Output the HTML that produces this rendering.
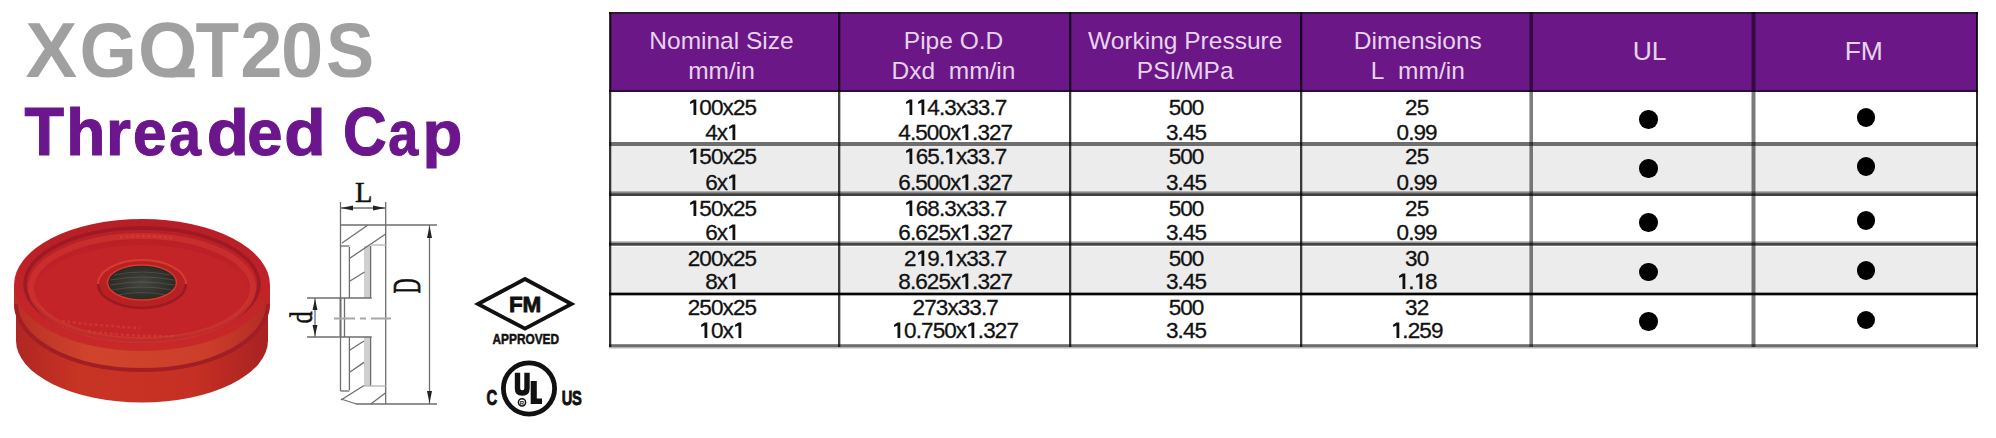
<!DOCTYPE html>
<html><head><meta charset="utf-8">
<style>
html,body{margin:0;padding:0;background:#fff;}
body{width:1996px;height:438px;position:relative;overflow:hidden;font-family:"Liberation Sans",sans-serif;}
.a{position:absolute;}
.hd{color:#e6d4ec;font-size:24.5px;text-align:center;line-height:30px;width:300px;white-space:nowrap;}
.c{color:#111;font-size:22.5px;letter-spacing:-0.9px;text-align:center;line-height:22.5px;width:300px;white-space:nowrap;-webkit-text-stroke:0.3px #111;}
.one{vertical-align:baseline;margin-right:-0.9px;fill:#111;}
.dot{width:18.5px;height:18.5px;border-radius:50%;background:#000;}
</style></head>
<body>
<svg class="a" style="left:0;top:0" width="600" height="180" viewBox="0 0 600 180">
<defs><clipPath id="qc"><rect x="0" y="0" width="600" height="77.6"/></clipPath></defs>
<g font-family="Liberation Sans" font-weight="bold" font-size="76" fill="#a0a0a0" clip-path="url(#qc)"><text transform="translate(25.38 77) scale(1.020 1.035)" x="0" y="0">X</text><text transform="translate(79.49 77) scale(0.970 1.035)" x="0" y="0">G</text><text transform="translate(138.00 77) scale(1.000 1.035)" x="0" y="0">Q</text><text transform="translate(195.56 77) scale(0.940 1.035)" x="0" y="0">T</text><text transform="translate(240.30 77) scale(1.000 1.020)" x="0" y="0">2</text><text transform="translate(281.00 77) scale(1.000 1.035)" x="0" y="0">0</text><text transform="translate(326.10 77) scale(0.950 1.035)" x="0" y="0">S</text><rect x="170" y="68.5" width="24.7" height="9"/></g>
<g font-family="Liberation Sans" font-weight="bold" font-size="64" fill="#6b168c" stroke="#6b168c" stroke-width="1.1"><text transform="translate(24.50 155) scale(1.010 1.065)" x="0" y="0">T</text><text transform="translate(66.30 155) scale(1.000 1.040)" x="0" y="0">h</text><text x="106.00" y="155">r</text><text transform="translate(132.92 155) scale(0.940 1.000)" x="0" y="0">e</text><text transform="translate(169.22 155) scale(0.890 0.970)" x="0" y="0">a</text><text transform="translate(206.74 155) scale(1.080 1.020)" x="0" y="0">d</text><text transform="translate(247.32 155) scale(0.990 1.000)" x="0" y="0">e</text><text transform="translate(284.28 155) scale(1.060 1.020)" x="0" y="0">d</text><text transform="translate(342.91 155) scale(0.945 1.060)" x="0" y="0">C</text><text transform="translate(388.32 155) scale(0.840 0.970)" x="0" y="0">a</text><text transform="translate(422.62 155) scale(1.020 0.970)" x="0" y="0">p</text></g>
</svg>

<div class="a" style="left:610px;top:12px;width:1367px;height:80px;background:#6b1787"></div>
<div class="a" style="left:610px;top:146px;width:1367px;height:46px;background:#ececec"></div>
<div class="a" style="left:610px;top:247px;width:1367px;height:46px;background:#ececec"></div>
<div class="a" style="left:609px;top:12px;width:1369px;height:2px;background:#2d1a35"></div>
<div class="a" style="left:609px;top:90px;width:1369px;height:2px;background:#2c0f38"></div>
<div class="a" style="left:609px;top:142px;width:1369px;height:4px;background:#6e6e6e"></div>
<div class="a" style="left:609px;top:191px;width:1369px;height:1px;background:#b0b0b0"></div>
<div class="a" style="left:609px;top:192px;width:1369px;height:1px;background:#8a8a8a"></div>
<div class="a" style="left:609px;top:193px;width:1369px;height:1px;background:#5a5a5a"></div>
<div class="a" style="left:609px;top:194px;width:1369px;height:2px;background:#404040"></div>
<div class="a" style="left:609px;top:241px;width:1369px;height:1px;background:#c4c4c4"></div>
<div class="a" style="left:609px;top:242px;width:1369px;height:1px;background:#9a9a9a"></div>
<div class="a" style="left:609px;top:243px;width:1369px;height:2px;background:#444444"></div>
<div class="a" style="left:609px;top:245px;width:1369px;height:1px;background:#777777"></div>
<div class="a" style="left:609px;top:292px;width:1369px;height:1px;background:#9a9a9a"></div>
<div class="a" style="left:609px;top:293px;width:1369px;height:2px;background:#050505"></div>
<div class="a" style="left:609px;top:295px;width:1369px;height:1px;background:#aaaaaa"></div>
<div class="a" style="left:609px;top:344px;width:1369px;height:1px;background:#8a8a8a"></div>
<div class="a" style="left:609px;top:345px;width:1369px;height:2px;background:#6e6e6e"></div>
<div class="a" style="left:609px;top:347px;width:1369px;height:1px;background:#b4b4b4"></div>
<div class="a" style="left:609px;top:348px;width:1369px;height:1px;background:#dcdcdc"></div>
<div class="a" style="left:609px;top:12px;width:2px;height:335px;background:rgba(0,0,0,0.78)"></div>
<div class="a" style="left:611px;top:12px;width:1px;height:335px;background:rgba(0,0,0,0.22)"></div>
<div class="a" style="left:838px;top:12px;width:2px;height:335px;background:rgba(0,0,0,0.74)"></div>
<div class="a" style="left:840px;top:12px;width:1px;height:335px;background:rgba(0,0,0,0.25)"></div>
<div class="a" style="left:1069px;top:12px;width:2px;height:335px;background:rgba(0,0,0,0.76)"></div>
<div class="a" style="left:1071px;top:12px;width:1px;height:335px;background:rgba(0,0,0,0.22)"></div>
<div class="a" style="left:1300px;top:12px;width:2px;height:335px;background:rgba(0,0,0,0.76)"></div>
<div class="a" style="left:1302px;top:12px;width:1px;height:335px;background:rgba(0,0,0,0.22)"></div>
<div class="a" style="left:1529px;top:12px;width:1px;height:335px;background:rgba(0,0,0,0.3)"></div>
<div class="a" style="left:1530px;top:12px;width:3px;height:335px;background:rgba(0,0,0,0.5)"></div>
<div class="a" style="left:1751px;top:12px;width:1px;height:335px;background:rgba(0,0,0,0.25)"></div>
<div class="a" style="left:1752px;top:12px;width:3px;height:335px;background:rgba(0,0,0,0.52)"></div>
<div class="a" style="left:1755px;top:12px;width:1px;height:335px;background:rgba(0,0,0,0.25)"></div>
<div class="a" style="left:1976px;top:12px;width:2px;height:335px;background:rgba(0,0,0,0.84)"></div>
<div class="a hd" style="left:571.5px;top:26.2px">Nominal Size<br>mm/in</div>
<div class="a hd" style="left:803.5px;top:26.2px">Pipe O.D<br>Dxd&nbsp; mm/in</div>
<div class="a hd" style="left:1035.2px;top:26.2px">Working Pressure<br>PSI/MPa</div>
<div class="a hd" style="left:1267.8px;top:26.2px">Dimensions<br>L&nbsp; mm/in</div>
<div class="a hd" style="left:1499.6px;top:36.3px;font-size:26.5px">UL</div>
<div class="a hd" style="left:1713.8px;top:36.3px;font-size:26.5px">FM</div>
<div class="a c" style="left:571.95px;top:97.25px"><svg class="one" width="12.5" height="16" viewBox="0 -16 12.5 16"><path d="M5.5,-15.5 L8.3,-15.5 L8.3,0 L5.5,0 L5.5,-12.6 L2.1,-11.0 L2.1,-13.3 Z"/></svg>00x25</div>
<div class="a c" style="left:571.95px;top:122.25px">4x<svg class="one" width="12.5" height="16" viewBox="0 -16 12.5 16"><path d="M5.5,-15.5 L8.3,-15.5 L8.3,0 L5.5,0 L5.5,-12.6 L2.1,-11.0 L2.1,-13.3 Z"/></svg></div>
<div class="a c" style="left:805.25px;top:97.25px"><svg class="one" width="12.5" height="16" viewBox="0 -16 12.5 16"><path d="M5.5,-15.5 L8.3,-15.5 L8.3,0 L5.5,0 L5.5,-12.6 L2.1,-11.0 L2.1,-13.3 Z"/></svg><svg class="one" width="12.5" height="16" viewBox="0 -16 12.5 16"><path d="M5.5,-15.5 L8.3,-15.5 L8.3,0 L5.5,0 L5.5,-12.6 L2.1,-11.0 L2.1,-13.3 Z"/></svg>4.3x33.7</div>
<div class="a c" style="left:805.25px;top:122.25px">4.500x<svg class="one" width="12.5" height="16" viewBox="0 -16 12.5 16"><path d="M5.5,-15.5 L8.3,-15.5 L8.3,0 L5.5,0 L5.5,-12.6 L2.1,-11.0 L2.1,-13.3 Z"/></svg>.327</div>
<div class="a c" style="left:1036.05px;top:97.25px">500</div>
<div class="a c" style="left:1036.05px;top:122.25px">3.45</div>
<div class="a c" style="left:1266.65px;top:97.25px">25</div>
<div class="a c" style="left:1266.65px;top:122.25px">0.99</div>
<div class="a c" style="left:571.95px;top:146.15px"><svg class="one" width="12.5" height="16" viewBox="0 -16 12.5 16"><path d="M5.5,-15.5 L8.3,-15.5 L8.3,0 L5.5,0 L5.5,-12.6 L2.1,-11.0 L2.1,-13.3 Z"/></svg>50x25</div>
<div class="a c" style="left:571.95px;top:171.55px">6x<svg class="one" width="12.5" height="16" viewBox="0 -16 12.5 16"><path d="M5.5,-15.5 L8.3,-15.5 L8.3,0 L5.5,0 L5.5,-12.6 L2.1,-11.0 L2.1,-13.3 Z"/></svg></div>
<div class="a c" style="left:805.25px;top:146.15px"><svg class="one" width="12.5" height="16" viewBox="0 -16 12.5 16"><path d="M5.5,-15.5 L8.3,-15.5 L8.3,0 L5.5,0 L5.5,-12.6 L2.1,-11.0 L2.1,-13.3 Z"/></svg>65.<svg class="one" width="12.5" height="16" viewBox="0 -16 12.5 16"><path d="M5.5,-15.5 L8.3,-15.5 L8.3,0 L5.5,0 L5.5,-12.6 L2.1,-11.0 L2.1,-13.3 Z"/></svg>x33.7</div>
<div class="a c" style="left:805.25px;top:171.55px">6.500x<svg class="one" width="12.5" height="16" viewBox="0 -16 12.5 16"><path d="M5.5,-15.5 L8.3,-15.5 L8.3,0 L5.5,0 L5.5,-12.6 L2.1,-11.0 L2.1,-13.3 Z"/></svg>.327</div>
<div class="a c" style="left:1036.05px;top:146.15px">500</div>
<div class="a c" style="left:1036.05px;top:171.55px">3.45</div>
<div class="a c" style="left:1266.65px;top:146.15px">25</div>
<div class="a c" style="left:1266.65px;top:171.55px">0.99</div>
<div class="a c" style="left:571.95px;top:197.75px"><svg class="one" width="12.5" height="16" viewBox="0 -16 12.5 16"><path d="M5.5,-15.5 L8.3,-15.5 L8.3,0 L5.5,0 L5.5,-12.6 L2.1,-11.0 L2.1,-13.3 Z"/></svg>50x25</div>
<div class="a c" style="left:571.95px;top:221.55px">6x<svg class="one" width="12.5" height="16" viewBox="0 -16 12.5 16"><path d="M5.5,-15.5 L8.3,-15.5 L8.3,0 L5.5,0 L5.5,-12.6 L2.1,-11.0 L2.1,-13.3 Z"/></svg></div>
<div class="a c" style="left:805.25px;top:197.75px"><svg class="one" width="12.5" height="16" viewBox="0 -16 12.5 16"><path d="M5.5,-15.5 L8.3,-15.5 L8.3,0 L5.5,0 L5.5,-12.6 L2.1,-11.0 L2.1,-13.3 Z"/></svg>68.3x33.7</div>
<div class="a c" style="left:805.25px;top:221.55px">6.625x<svg class="one" width="12.5" height="16" viewBox="0 -16 12.5 16"><path d="M5.5,-15.5 L8.3,-15.5 L8.3,0 L5.5,0 L5.5,-12.6 L2.1,-11.0 L2.1,-13.3 Z"/></svg>.327</div>
<div class="a c" style="left:1036.05px;top:197.75px">500</div>
<div class="a c" style="left:1036.05px;top:221.55px">3.45</div>
<div class="a c" style="left:1266.65px;top:197.75px">25</div>
<div class="a c" style="left:1266.65px;top:221.55px">0.99</div>
<div class="a c" style="left:571.95px;top:247.75px">200x25</div>
<div class="a c" style="left:571.95px;top:270.95px">8x<svg class="one" width="12.5" height="16" viewBox="0 -16 12.5 16"><path d="M5.5,-15.5 L8.3,-15.5 L8.3,0 L5.5,0 L5.5,-12.6 L2.1,-11.0 L2.1,-13.3 Z"/></svg></div>
<div class="a c" style="left:805.25px;top:247.75px">2<svg class="one" width="12.5" height="16" viewBox="0 -16 12.5 16"><path d="M5.5,-15.5 L8.3,-15.5 L8.3,0 L5.5,0 L5.5,-12.6 L2.1,-11.0 L2.1,-13.3 Z"/></svg>9.<svg class="one" width="12.5" height="16" viewBox="0 -16 12.5 16"><path d="M5.5,-15.5 L8.3,-15.5 L8.3,0 L5.5,0 L5.5,-12.6 L2.1,-11.0 L2.1,-13.3 Z"/></svg>x33.7</div>
<div class="a c" style="left:805.25px;top:270.95px">8.625x<svg class="one" width="12.5" height="16" viewBox="0 -16 12.5 16"><path d="M5.5,-15.5 L8.3,-15.5 L8.3,0 L5.5,0 L5.5,-12.6 L2.1,-11.0 L2.1,-13.3 Z"/></svg>.327</div>
<div class="a c" style="left:1036.05px;top:247.75px">500</div>
<div class="a c" style="left:1036.05px;top:270.95px">3.45</div>
<div class="a c" style="left:1266.65px;top:247.75px">30</div>
<div class="a c" style="left:1266.65px;top:270.95px"><svg class="one" width="12.5" height="16" viewBox="0 -16 12.5 16"><path d="M5.5,-15.5 L8.3,-15.5 L8.3,0 L5.5,0 L5.5,-12.6 L2.1,-11.0 L2.1,-13.3 Z"/></svg>.<svg class="one" width="12.5" height="16" viewBox="0 -16 12.5 16"><path d="M5.5,-15.5 L8.3,-15.5 L8.3,0 L5.5,0 L5.5,-12.6 L2.1,-11.0 L2.1,-13.3 Z"/></svg>8</div>
<div class="a c" style="left:571.95px;top:296.55px">250x25</div>
<div class="a c" style="left:571.95px;top:320.35px"><svg class="one" width="12.5" height="16" viewBox="0 -16 12.5 16"><path d="M5.5,-15.5 L8.3,-15.5 L8.3,0 L5.5,0 L5.5,-12.6 L2.1,-11.0 L2.1,-13.3 Z"/></svg>0x<svg class="one" width="12.5" height="16" viewBox="0 -16 12.5 16"><path d="M5.5,-15.5 L8.3,-15.5 L8.3,0 L5.5,0 L5.5,-12.6 L2.1,-11.0 L2.1,-13.3 Z"/></svg></div>
<div class="a c" style="left:805.25px;top:296.55px">273x33.7</div>
<div class="a c" style="left:805.25px;top:320.35px"><svg class="one" width="12.5" height="16" viewBox="0 -16 12.5 16"><path d="M5.5,-15.5 L8.3,-15.5 L8.3,0 L5.5,0 L5.5,-12.6 L2.1,-11.0 L2.1,-13.3 Z"/></svg>0.750x<svg class="one" width="12.5" height="16" viewBox="0 -16 12.5 16"><path d="M5.5,-15.5 L8.3,-15.5 L8.3,0 L5.5,0 L5.5,-12.6 L2.1,-11.0 L2.1,-13.3 Z"/></svg>.327</div>
<div class="a c" style="left:1036.05px;top:296.55px">500</div>
<div class="a c" style="left:1036.05px;top:320.35px">3.45</div>
<div class="a c" style="left:1266.65px;top:296.55px">32</div>
<div class="a c" style="left:1266.65px;top:320.35px"><svg class="one" width="12.5" height="16" viewBox="0 -16 12.5 16"><path d="M5.5,-15.5 L8.3,-15.5 L8.3,0 L5.5,0 L5.5,-12.6 L2.1,-11.0 L2.1,-13.3 Z"/></svg>.259</div>
<div class="a dot" style="left:1639.25px;top:110.25px"></div>
<div class="a dot" style="left:1639.25px;top:159.45px"></div>
<div class="a dot" style="left:1639.25px;top:213.05px"></div>
<div class="a dot" style="left:1639.25px;top:262.75px"></div>
<div class="a dot" style="left:1639.25px;top:312.45px"></div>
<div class="a dot" style="left:1856.55px;top:108.15px"></div>
<div class="a dot" style="left:1856.55px;top:157.45px"></div>
<div class="a dot" style="left:1856.55px;top:211.25px"></div>
<div class="a dot" style="left:1856.55px;top:261.05px"></div>
<div class="a dot" style="left:1856.55px;top:310.75px"></div>
<svg class="a" style="left:0;top:200px" width="290" height="220" viewBox="0 200 290 220">
<defs>
<linearGradient id="side" x1="0" y1="0" x2="1" y2="0">
<stop offset="0" stop-color="#b02622"/>
<stop offset="0.25" stop-color="#c83424"/>
<stop offset="0.7" stop-color="#c63024"/>
<stop offset="1" stop-color="#a82222"/>
</linearGradient>
<linearGradient id="lip" x1="0" y1="0" x2="1" y2="0">
<stop offset="0" stop-color="#b83024"/>
<stop offset="0.3" stop-color="#d0442c"/>
<stop offset="0.75" stop-color="#cc3e2a"/>
<stop offset="1" stop-color="#b42a24"/>
</linearGradient>
<linearGradient id="topg" x1="0" y1="0" x2="0" y2="1">
<stop offset="0" stop-color="#b81e26"/>
<stop offset="0.6" stop-color="#c22428"/>
<stop offset="1" stop-color="#c82a28"/>
</linearGradient>
<radialGradient id="hole" cx="0.5" cy="0.5" r="0.5">
<stop offset="0" stop-color="#45463e"/>
<stop offset="1" stop-color="#2a2a26"/>
</radialGradient>
</defs>
<!-- lower cylinder -->
<path d="M16,300 L16,340.4 A126,62 0 0 0 268,340.4 L268,300 Z" fill="url(#side)"/>
<!-- lip -->
<path d="M14,285 L14,303 A128,66 0 0 0 270,303 L270,285 Z" fill="url(#lip)"/>
<path d="M16,304 A126,66 0 0 0 268,304" fill="none" stroke="#a01e24" stroke-width="4"/>
<!-- top face -->
<ellipse cx="142" cy="285" rx="128" ry="66" fill="url(#topg)"/>
<ellipse cx="142" cy="284" rx="117" ry="56" fill="none" stroke="#8e1822" stroke-width="3.5" opacity="0.7"/>
<ellipse cx="142" cy="288" rx="111" ry="52" fill="none" stroke="#d43a32" stroke-width="6" opacity="0.55"/>
<ellipse cx="142" cy="291" rx="106" ry="46" fill="#c22428"/>
<path d="M40,306 A104,40 0 0 0 244,306" fill="none" stroke="#d23a30" stroke-width="2" opacity="0.4"/>
<!-- boss -->
<ellipse cx="142" cy="284" rx="44" ry="24" fill="#b82024"/>
<path d="M98,284 A44,24 0 0 1 186,284" fill="none" stroke="#e04a34" stroke-width="2" opacity="0.7"/>
<path d="M98,284 A44,24 0 0 0 186,284" fill="none" stroke="#8e1a20" stroke-width="2.5" opacity="0.8"/>
<ellipse cx="142" cy="282.5" rx="34.5" ry="17.5" fill="url(#hole)" stroke="#d83a2e" stroke-width="1.5"/>
<g stroke="#7a7a66" stroke-width="1" opacity="0.35" fill="none">
<path d="M114,275 Q142,269 170,275"/>
<path d="M110,280 Q142,274 174,280"/>
<path d="M110,285 Q142,279 174,285"/>
<path d="M112,290 Q142,284 172,290"/>
<path d="M118,295 Q142,290 166,295"/>
</g>
<g fill="none" stroke="#dc4a3c" stroke-width="2.5" opacity="0.45" stroke-dasharray="3 2.5">
<path d="M62,321 Q100,326 140,328"/>
<path d="M88,331 Q130,337 175,336"/>
<path d="M120,237 Q145,235 172,238"/>
</g>
</svg>

<svg class="a" style="left:285px;top:170px" width="160" height="245" viewBox="285 170 160 245">
<rect x="364" y="246" width="6.6" height="52" fill="#d0d0d0"/>
<rect x="364" y="337" width="6.6" height="49" fill="#d0d0d0"/>
<line x1="340.5" y1="298" x2="340.5" y2="337" stroke="#c4c4c4" stroke-width="3"/>
<g fill="none" stroke="#6e6e6e" stroke-width="1.3">
<line x1="340.5" y1="202" x2="340.5" y2="391"/>
<line x1="385.7" y1="202" x2="385.7" y2="404"/>
<line x1="340.5" y1="225" x2="437" y2="225"/>
<line x1="356" y1="404" x2="437" y2="404"/>
<line x1="429.5" y1="225" x2="429.5" y2="404"/>
<line x1="340.5" y1="208" x2="385.7" y2="208"/>
<line x1="349.4" y1="247" x2="349.4" y2="298"/>
<line x1="349.4" y1="337" x2="349.4" y2="390"/>
<line x1="370.6" y1="246" x2="370.6" y2="298"/>
<line x1="370.6" y1="337" x2="370.6" y2="386"/>
<line x1="344.5" y1="298" x2="344.5" y2="337"/>
<line x1="342" y1="243" x2="368" y2="225"/>
<line x1="349.4" y1="258.5" x2="385.7" y2="234"/>
<line x1="340.5" y1="246" x2="349.4" y2="246"/>
<line x1="350" y1="281" x2="364.5" y2="272"/>
<line x1="350" y1="350" x2="364" y2="341"/>
<line x1="350" y1="372" x2="364" y2="362.4"/>
<line x1="341" y1="400" x2="364" y2="385.5"/>
<line x1="370.8" y1="404" x2="385.7" y2="392.7"/>
<line x1="341" y1="399" x2="356.4" y2="404"/>
<line x1="340.5" y1="391" x2="349.4" y2="391"/>
<line x1="307" y1="298" x2="371.7" y2="298"/>
<line x1="307" y1="337" x2="371.7" y2="337"/>
<line x1="315" y1="298" x2="315" y2="337"/>
</g>
<line x1="370.6" y1="245" x2="385.7" y2="245" stroke="#bbb" stroke-width="1.4"/>
<line x1="364" y1="386" x2="385.7" y2="386" stroke="#bbb" stroke-width="1.4"/>
<line x1="334" y1="318.5" x2="391" y2="318.5" stroke="#a8a8a8" stroke-width="2" stroke-dasharray="21 5 6 5"/>
<g fill="#222">
<path d="M341,208 L353,205.5 L353,210.5 Z"/>
<path d="M385,208 L373,205.5 L373,210.5 Z"/>
<path d="M429.5,226 L427,238 L432,238 Z"/>
<path d="M429.5,403 L427,391 L432,391 Z"/>
<path d="M315,299 L312.5,310 L317.5,310 Z"/>
<path d="M315,336 L312.5,325 L317.5,325 Z"/>
</g>
<text x="363.8" y="201.8" font-family="Liberation Serif" font-size="28.5" text-anchor="middle" fill="#111" stroke="#111" stroke-width="0.5">L</text>
<text transform="translate(419.5,286) rotate(-90) scale(0.535,1)" font-family="Liberation Serif" font-size="39" text-anchor="middle" fill="#111" stroke="#111" stroke-width="0.7">D</text>
<text transform="translate(312,317.5) rotate(-90) scale(0.78,1)" font-family="Liberation Serif" font-size="31" text-anchor="middle" fill="#111" stroke="#111" stroke-width="0.6">d</text>
</svg>

<svg class="a" style="left:460px;top:265px" width="140" height="165" viewBox="460 265 140 165">
<path d="M478,304 L525,279 L571.5,304 L525,328.7 Z" fill="none" stroke="#111" stroke-width="3.8" stroke-linejoin="miter"/>
<text x="525" y="311.5" font-family="Liberation Sans" font-weight="bold" font-size="22.5" text-anchor="middle" fill="#111" stroke="#111" stroke-width="0.8" letter-spacing="-0.3">FM</text>
<text x="0" y="0" font-family="Liberation Sans" font-weight="bold" font-size="13.8" text-anchor="middle" fill="#111" stroke="#111" stroke-width="0.5" transform="translate(525.8 344.4) scale(0.86 1)">APPROVED</text>
<circle cx="529" cy="388.5" r="25.6" fill="none" stroke="#111" stroke-width="4.8"/>
<text x="0" y="0" font-family="Liberation Sans" font-weight="bold" font-size="22.5" text-anchor="middle" fill="#111" stroke="#111" stroke-width="0.9" transform="translate(491.8 404.5) scale(0.66 1)">C</text>
<text x="0" y="0" font-family="Liberation Sans" font-weight="bold" font-size="21" text-anchor="middle" fill="#111" stroke="#111" stroke-width="0.9" letter-spacing="-0.5" transform="translate(571.5 404.5) scale(0.7 1)">US</text>
<path d="M517.5,372.7 V388.5 Q517.5,393 522,393 H522.5 Q527,393 527,388.5 V372.7" fill="none" stroke="#111" stroke-width="5.4"/>
<path d="M530.7,381 H536.8 V398.4 H542 V404 H530.7 Z" fill="#111"/>
<circle cx="522" cy="402.3" r="3.6" fill="#fff" stroke="#111" stroke-width="1.5"/>
<text x="522" y="404.6" font-family="Liberation Sans" font-weight="bold" font-size="6" text-anchor="middle" fill="#111">R</text>
</svg>


</body></html>
